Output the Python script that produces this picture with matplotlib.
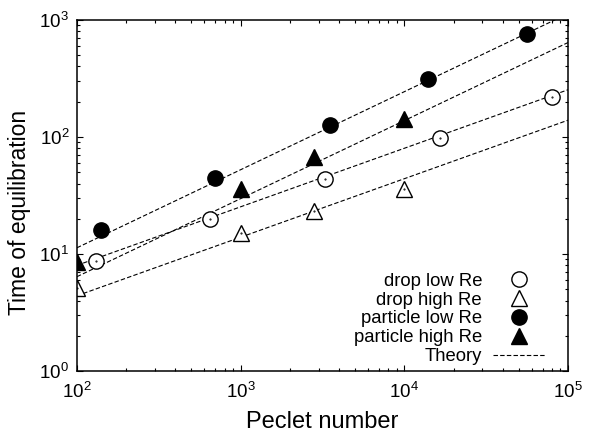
import matplotlib
matplotlib.use('Agg')
import matplotlib.pyplot as plt
from matplotlib.ticker import LogLocator, NullFormatter

plt.rcParams['font.family'] = ['Liberation Sans', 'DejaVu Sans']
plt.rcParams['mathtext.fontset'] = 'custom'
plt.rcParams['mathtext.rm'] = 'Liberation Sans'
plt.rcParams['mathtext.it'] = 'Liberation Sans'

# data
drop_low_pe = [130, 650, 3300, 16500, 80000]
drop_low_t = [8.8, 20, 44, 98, 220]
drop_high_pe = [100, 1000, 2800, 10000]
drop_high_t = [5.1, 15, 23.5, 36]
part_low_pe = [140, 700, 3500, 14000, 56000]
part_low_t = [16, 45, 126, 310, 750]
part_high_pe = [100, 1000, 2800, 10000]
part_high_t = [8.6, 36, 68, 142]

# theory lines, end points at Pe = 1e2 and 1e5
theory_pe = [1e2, 1e5]
theory_part_low = [11.3, 1130]
theory_part_high = [6.4, 640]
theory_drop_low = [8.0, 253]
theory_drop_high = [4.4, 139]

fig = plt.figure(figsize=(5.96, 4.32), dpi=100)
ax = fig.add_axes([0.129, 0.141, 0.824, 0.813])

dash = dict(color='black', lw=0.8, dashes=(4, 2))
ax.plot(theory_pe, theory_part_low, **dash)
ax.plot(theory_pe, theory_part_high, **dash)
ax.plot(theory_pe, theory_drop_low, **dash)
ax.plot(theory_pe, theory_drop_high, **dash, label='Theory')

ax.plot(drop_low_pe, drop_low_t, 'o', ms=11, mfc='white', mec='black', mew=1, label='drop low Re')
ax.plot(drop_high_pe, drop_high_t, '^', ms=11, mfc='white', mec='black', mew=1, label='drop high Re')
ax.plot(part_low_pe, part_low_t, 'o', ms=11, color='black', label='particle low Re')
ax.plot(part_high_pe, part_high_t, '^', ms=11, color='black', label='particle high Re')
# gnuplot-style centre dots on the open symbols
ax.plot(drop_low_pe, drop_low_t, '.', ms=1, color='black')
ax.plot(drop_high_pe, drop_high_t, '.', ms=1, color='black')

ax.set_xscale('log')
ax.set_yscale('log')
ax.set_xlim(1e2, 1e5)
ax.set_ylim(1, 1e3)
ax.set_xlabel('Peclet number', fontsize=17, labelpad=6)
ax.set_ylabel('Time of equilibration', fontsize=16.5)
ax.yaxis.set_label_coords(-0.093, 0.452)

ax.xaxis.set_minor_locator(LogLocator(subs=range(2, 10)))
ax.yaxis.set_minor_locator(LogLocator(subs=range(2, 10)))
ax.xaxis.set_minor_formatter(NullFormatter())
ax.yaxis.set_minor_formatter(NullFormatter())
ax.tick_params(which='both', direction='in', top=True, right=True, labelsize=13.5)
ax.tick_params(which='major', length=4.5, width=0.8)
ax.tick_params(which='minor', length=2.3, width=0.8)
ax.tick_params(axis='x', pad=8)
ax.tick_params(axis='y', pad=5.5)
for s in ax.spines.values():
    s.set_linewidth(1.1)

h, l = ax.get_legend_handles_labels()
order = [1, 2, 3, 4, 0]
ax.legend([h[i] for i in order], [l[i] for i in order], loc='lower right',
          frameon=False, markerfirst=False, fontsize=13.3, handlelength=2.8,
          labelspacing=0.1, handletextpad=0.6, borderaxespad=0, borderpad=0,
          bbox_to_anchor=(0.953, 0.017))

fig.savefig('out.png', dpi=100)
